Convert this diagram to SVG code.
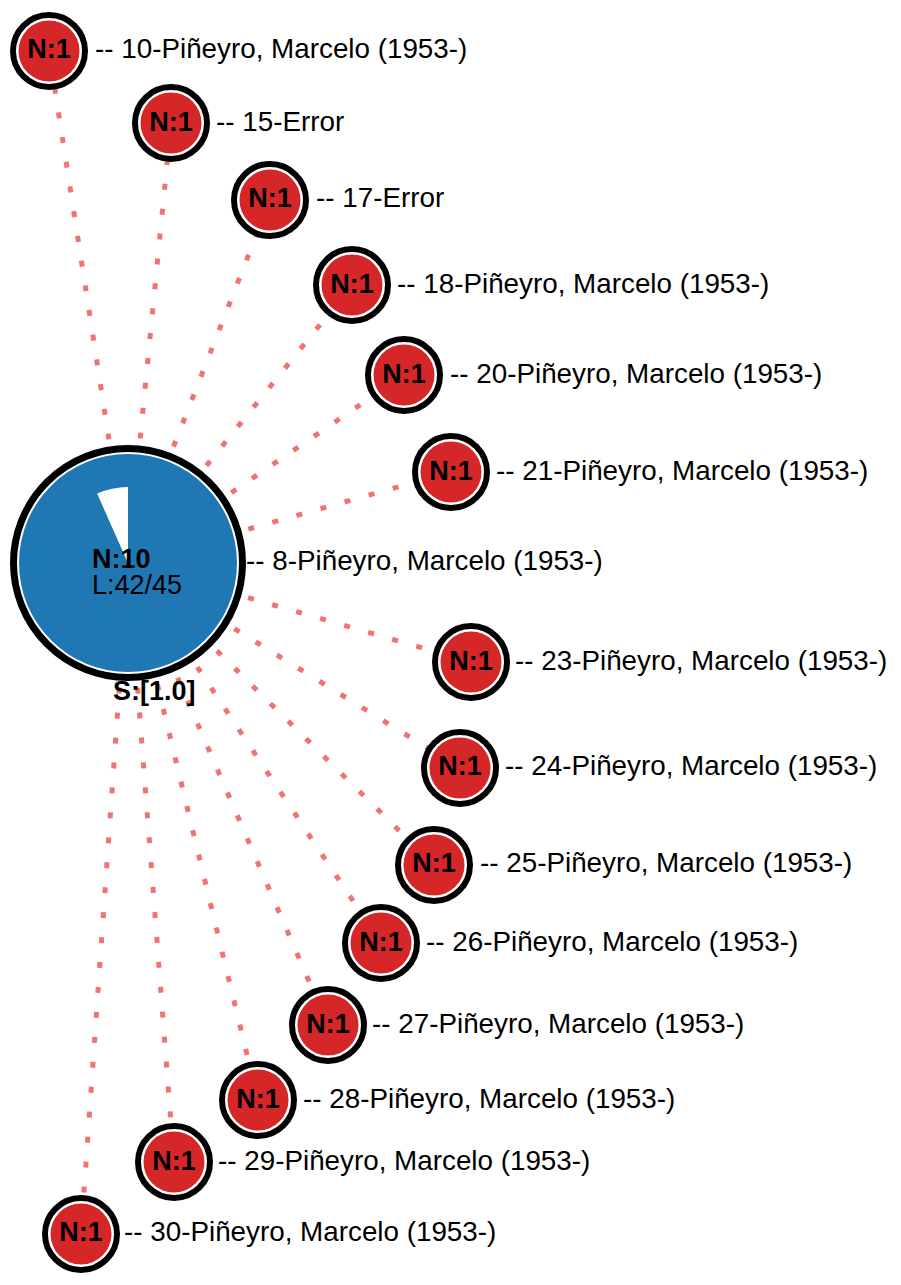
<svg xmlns="http://www.w3.org/2000/svg" width="901" height="1285" viewBox="0 0 901 1285">
<style>
.edge{stroke:#f07272;stroke-width:5;stroke-dasharray:6 19;fill:none}
.ring{fill:#fff;stroke:#000;stroke-width:6}
.leaf{fill:#d62728}
.nt{font-family:"Liberation Sans",Arial,sans-serif;font-size:27px;font-weight:bold;text-anchor:middle;fill:#000}
.lb{font-family:"Liberation Sans",Arial,sans-serif;font-size:27.8px;fill:#000}
.ct{font-family:"Liberation Sans",Arial,sans-serif;font-size:27px;fill:#000}
</style>
<rect width="901" height="1285" fill="#fff"/>
<g id="edges">
<line class="edge" x1="128" y1="563" x2="49" y2="51"/>
<line class="edge" x1="128" y1="563" x2="171" y2="123"/>
<line class="edge" x1="128" y1="563" x2="270" y2="200"/>
<line class="edge" x1="128" y1="563" x2="352" y2="285"/>
<line class="edge" x1="128" y1="563" x2="404" y2="375"/>
<line class="edge" x1="128" y1="563" x2="451" y2="472"/>
<line class="edge" x1="128" y1="563" x2="471" y2="662"/>
<line class="edge" x1="128" y1="563" x2="460" y2="768"/>
<line class="edge" x1="128" y1="563" x2="434" y2="865"/>
<line class="edge" x1="128" y1="563" x2="381" y2="943"/>
<line class="edge" x1="128" y1="563" x2="328" y2="1025"/>
<line class="edge" x1="128" y1="563" x2="258" y2="1100"/>
<line class="edge" x1="128" y1="563" x2="174" y2="1162"/>
<line class="edge" x1="128" y1="563" x2="81" y2="1234"/>
</g>
<g id="n8">
<circle cx="128" cy="563" r="114.5" fill="#fff" stroke="#000" stroke-width="7"/>
<circle cx="128" cy="563" r="109" fill="#1f77b4"/>
<path d="M128,563 L128,487 A76,76 0 0,0 97.1,493.6 Z" fill="#fff"/>
<text class="ct" x="92" y="568" font-weight="bold">N:10</text>
<text class="ct" x="92" y="594">L:42/45</text>
<text class="ct" x="113" y="700" font-weight="bold">S:[1.0]</text>
<text class="lb" x="246" y="570">-- 8-Piñeyro, Marcelo (1953-)</text>
</g>
<g id="n10"><circle class="ring" cx="49" cy="51" r="36"/><circle class="leaf" cx="49" cy="51" r="30.5"/><text class="nt" x="49" y="58">N:1</text><text class="lb" x="95" y="58">-- 10-Piñeyro, Marcelo (1953-)</text></g>
<g id="n15"><circle class="ring" cx="171" cy="123" r="36"/><circle class="leaf" cx="171" cy="123" r="30.5"/><text class="nt" x="171" y="131">N:1</text><text class="lb" x="216" y="131">-- 15-Error</text></g>
<g id="n17"><circle class="ring" cx="270" cy="200" r="36"/><circle class="leaf" cx="270" cy="200" r="30.5"/><text class="nt" x="270" y="207">N:1</text><text class="lb" x="316" y="207">-- 17-Error</text></g>
<g id="n18"><circle class="ring" cx="352" cy="285" r="36"/><circle class="leaf" cx="352" cy="285" r="30.5"/><text class="nt" x="352" y="293">N:1</text><text class="lb" x="397" y="293">-- 18-Piñeyro, Marcelo (1953-)</text></g>
<g id="n20"><circle class="ring" cx="404" cy="375" r="36"/><circle class="leaf" cx="404" cy="375" r="30.5"/><text class="nt" x="404" y="383">N:1</text><text class="lb" x="450" y="383">-- 20-Piñeyro, Marcelo (1953-)</text></g>
<g id="n21"><circle class="ring" cx="451" cy="472" r="36"/><circle class="leaf" cx="451" cy="472" r="30.5"/><text class="nt" x="451" y="480">N:1</text><text class="lb" x="496" y="480">-- 21-Piñeyro, Marcelo (1953-)</text></g>
<g id="n23"><circle class="ring" cx="471" cy="662" r="36"/><circle class="leaf" cx="471" cy="662" r="30.5"/><text class="nt" x="471" y="670">N:1</text><text class="lb" x="515" y="670">-- 23-Piñeyro, Marcelo (1953-)</text></g>
<g id="n24"><circle class="ring" cx="460" cy="768" r="36"/><circle class="leaf" cx="460" cy="768" r="30.5"/><text class="nt" x="460" y="775">N:1</text><text class="lb" x="505" y="775">-- 24-Piñeyro, Marcelo (1953-)</text></g>
<g id="n25"><circle class="ring" cx="434" cy="865" r="36"/><circle class="leaf" cx="434" cy="865" r="30.5"/><text class="nt" x="434" y="872">N:1</text><text class="lb" x="480" y="872">-- 25-Piñeyro, Marcelo (1953-)</text></g>
<g id="n26"><circle class="ring" cx="381" cy="943" r="36"/><circle class="leaf" cx="381" cy="943" r="30.5"/><text class="nt" x="381" y="951">N:1</text><text class="lb" x="426" y="951">-- 26-Piñeyro, Marcelo (1953-)</text></g>
<g id="n27"><circle class="ring" cx="328" cy="1025" r="36"/><circle class="leaf" cx="328" cy="1025" r="30.5"/><text class="nt" x="328" y="1033">N:1</text><text class="lb" x="372" y="1033">-- 27-Piñeyro, Marcelo (1953-)</text></g>
<g id="n28"><circle class="ring" cx="258" cy="1100" r="36"/><circle class="leaf" cx="258" cy="1100" r="30.5"/><text class="nt" x="258" y="1108">N:1</text><text class="lb" x="303" y="1108">-- 28-Piñeyro, Marcelo (1953-)</text></g>
<g id="n29"><circle class="ring" cx="174" cy="1162" r="36"/><circle class="leaf" cx="174" cy="1162" r="30.5"/><text class="nt" x="174" y="1170">N:1</text><text class="lb" x="218" y="1170">-- 29-Piñeyro, Marcelo (1953-)</text></g>
<g id="n30"><circle class="ring" cx="81" cy="1234" r="36"/><circle class="leaf" cx="81" cy="1234" r="30.5"/><text class="nt" x="81" y="1241">N:1</text><text class="lb" x="124" y="1241">-- 30-Piñeyro, Marcelo (1953-)</text></g>
</svg>
